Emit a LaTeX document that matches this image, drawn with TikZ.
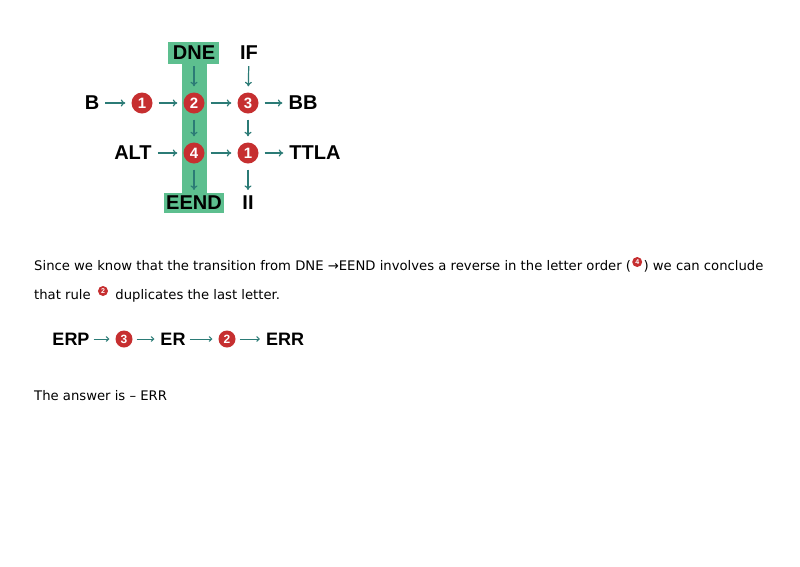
\documentclass[tikz,border=0pt]{standalone}
\usepackage{fontspec}
\setmainfont{DejaVu Sans}
\newfontfamily\labfont{Liberation Sans}[BoldFont={Liberation Sans Bold}]
\usetikzlibrary{arrows.meta}
\definecolor{hlgreen}{HTML}{5DBF8F}
\definecolor{rulered}{HTML}{C62F30}
\definecolor{arrteal}{HTML}{2B7B76}
\tikzset{
  lab/.style={font=\labfont\bfseries\fontsize{20}{20}\selectfont, inner sep=0pt},
  labs/.style={font=\labfont\bfseries\fontsize{18}{18}\selectfont, inner sep=0pt},
  num/.style={circle, fill=rulered, text=white, minimum size=21pt, inner sep=0pt,
    font=\labfont\bfseries\fontsize{15}{15}\selectfont},
  nums/.style={circle, fill=rulered, text=white, minimum size=17pt, inner sep=0pt,
    font=\labfont\bfseries\fontsize{12}{12}\selectfont},
  numt/.style={circle, fill=rulered, text=white, minimum size=10pt, inner sep=0pt,
    font=\labfont\bfseries\fontsize{7}{7}\selectfont},
  arr/.style={draw=arrteal, line width=1.2pt, -{To[length=4.5pt,width=7pt]},
    shorten <=6pt, shorten >=6pt},
  arrs/.style={draw=arrteal, line width=1pt, -{To[length=3.5pt,width=5.5pt]},
    shorten <=4pt, shorten >=6pt},
  para/.style={font=\fontsize{13.2}{13.2}\selectfont, inner sep=0pt, anchor=base west},
}
\begin{document}
\begin{tikzpicture}[x=1pt,y=-1pt]
\useasboundingbox (0,0) rectangle (800,566);
\fill[white] (0,0) rectangle (800,566);
% green highlight
\fill[hlgreen] (168,42) rectangle (219,64);
\fill[hlgreen] (182,63) rectangle (207,194);
\fill[hlgreen] (164,193) rectangle (224,213);
% labels
\node[lab] (dne) at (194,53) {DNE};
\node[lab] (if) at (249,53) {IF};
\node[lab] (b) at (92,103) {B};
\node[lab] (bb) at (303,103) {BB};
\node[lab] (alt) at (133,153) {ALT};
\node[lab] (ttla) at (315,153) {TTLA};
\node[lab] (eend) at (194,203) {EEND};
\node[lab] (ii) at (248,203) {II};
% rule circles
\node[num] (c1) at (142,103) {1};
\node[num] (c2) at (194,103) {2};
\node[num] (c3) at (248,103) {3};
\node[num] (c4) at (194,153) {4};
\node[num] (c1b) at (248,153) {1};
% arrows
\draw[arr] (b) -- (c1);
\draw[arr] (c1) -- (c2);
\draw[arr] (c2) -- (c3);
\draw[arr] (c3) -- (bb);
\draw[arr] (alt) -- (c4);
\draw[arr] (c4) -- (c1b);
\draw[arr] (c1b) -- (ttla);
\draw[arr] (dne) -- (c2);
\draw[arr] (if) -- (c3);
\draw[arr] (c2) -- (c4);
\draw[arr] (c3) -- (c1b);
\draw[arr] (c4) -- (eend);
\draw[arr] (c1b) -- (ii);
% paragraph line 1
\node[para] (t1a) at (34,270) {Since we know that the transition from DNE →EEND involves a reverse in the letter order (};
\node[numt] (i4) at ([xshift=6pt,yshift=8pt]t1a.base east) {4};
\path (i4.east |- t1a.base) coordinate (t1bpos);
\node[para] (t1b) at ([xshift=1pt]t1bpos) {) we can conclude};
% paragraph line 2
\node[para] (t2a) at (34,299) {that rule};
\node[numt] (i2) at ([xshift=12pt,yshift=8pt]t2a.base east) {2};
\path (i2.east |- t2a.base) coordinate (t2bpos);
\node[para] (t2b) at ([xshift=7pt]t2bpos) {duplicates the last letter.};
% ERP row
\node[labs] (erp) at (71,339) {ERP};
\node[nums] (r3) at (124,339) {3};
\node[labs] (er) at (173,339) {ER};
\node[nums] (r2) at (227,339) {2};
\node[labs] (err) at (285,339) {ERR};
\draw[arrs] (erp) -- (r3);
\draw[arrs] (r3) -- (er);
\draw[arrs] (er) -- (r2);
\draw[arrs] (r2) -- (err);
% answer
\node[para] (ans) at (34,400) {The answer is – ERR};
\end{tikzpicture}
\end{document}
